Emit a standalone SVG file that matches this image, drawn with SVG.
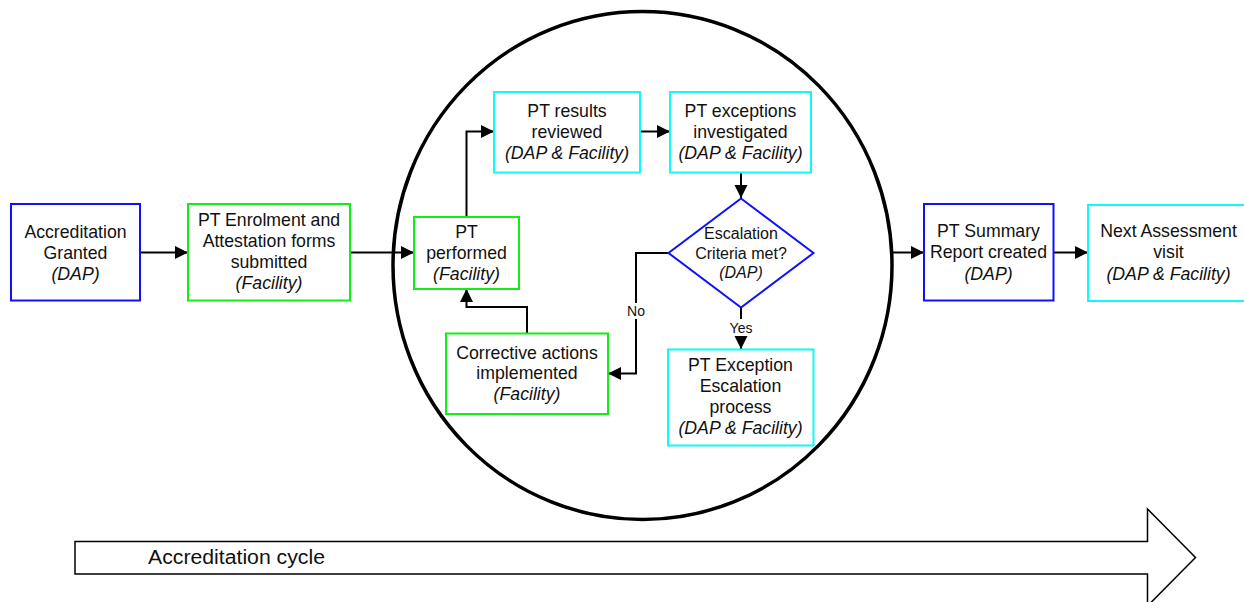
<svg xmlns="http://www.w3.org/2000/svg" width="1244" height="602" viewBox="0 0 1244 602">
  <defs>
    <marker id="arrow" markerUnits="userSpaceOnUse" markerWidth="14" markerHeight="14" viewBox="0 0 14 14" refX="13" refY="7" orient="auto">
      <path d="M0,0.5 L13,7 L0,13.5 Z" fill="#000"/>
    </marker>
  </defs>
  <style>
    .box { fill: #fff; stroke-width: 2; }
    .dap { stroke: #1010ff; }
    .fac { stroke: #10f010; }
    .both { stroke: #10f8f8; }
    .lbl { font-family: "Liberation Sans", Arial, sans-serif; font-size: 17.7px; fill: #111; text-anchor: middle; }
    .lbl .who { font-style: italic; }
    .dlbl { font-family: "Liberation Sans", Arial, sans-serif; font-size: 16px; fill: #111; text-anchor: middle; }
    .dlbl .who { font-style: italic; }
    .edge { fill: none; stroke: #000; stroke-width: 2; marker-end: url(#arrow); }
    .elbl { font-family: "Liberation Sans", Arial, sans-serif; font-size: 14px; fill: #111; text-anchor: middle; }
  </style>

  <rect width="1244" height="602" fill="#fff"/>

  <!-- timeline arrow -->
  <g id="cycle-arrow">
    <path d="M75,541.5 L1147.5,541.5 L1147.5,509 L1195.5,557.5 L1147.5,606 L1147.5,574 L75,574 Z" fill="#fff" stroke="#000" stroke-width="1.5"/>
    <text x="148" y="563.5" font-family="'Liberation Sans', Arial, sans-serif" font-size="20px" fill="#111" textLength="177" lengthAdjust="spacingAndGlyphs">Accreditation cycle</text>
  </g>

  <!-- PT cycle ring -->
  <g id="pt-ring">
    <ellipse cx="642.5" cy="265.5" rx="249.5" ry="254" fill="none" stroke="#000" stroke-width="3.5"/>
  </g>

  <!-- connectors -->
  <g id="connectors">
    <path class="edge" d="M140,252.5 L188,252.5"/>
    <path class="edge" d="M350,252.5 L414,252.5"/>
    <path class="edge" d="M466.5,217 L466.5,131.5 L494,131.5"/>
    <path class="edge" d="M640,131.5 L670,131.5"/>
    <path class="edge" d="M741,172 L741,198"/>
    <path class="edge" d="M741,307 L741,349"/>
    <path class="edge" d="M668,253 L636,253 L636,373.5 L608,373.5"/>
    <path class="edge" d="M527,333 L527,307 L466.5,307 L466.5,289"/>
    <path class="edge" d="M892,252.5 L924,252.5"/>
    <path class="edge" d="M1053,252.5 L1088,252.5"/>
    <rect x="625" y="303" width="22" height="16" fill="#fff"/>
    <text class="elbl" x="636" y="316">No</text>
    <rect x="728" y="319" width="26" height="17" fill="#fff"/>
    <text class="elbl" x="741" y="332.5">Yes</text>
  </g>

  <g id="accreditation-granted">
    <rect class="box dap" x="11" y="204" width="129" height="96.5"/>
    <text class="lbl" x="75.5"><tspan x="75.5" y="237.5">Accreditation</tspan><tspan x="75.5" y="258.5">Granted</tspan><tspan class="who" x="75.5" y="279.5">(DAP)</tspan></text>
  </g>

  <g id="pt-enrolment">
    <rect class="box fac" x="188" y="204" width="162" height="96.5"/>
    <text class="lbl"><tspan x="269" y="226">PT Enrolment and</tspan><tspan x="269" y="247">Attestation forms</tspan><tspan x="269" y="268">submitted</tspan><tspan class="who" x="269" y="289">(Facility)</tspan></text>
  </g>

  <g id="pt-performed">
    <rect class="box fac" x="414" y="217" width="105" height="72"/>
    <text class="lbl"><tspan x="466.5" y="237.5">PT</tspan><tspan x="466.5" y="258.5">performed</tspan><tspan class="who" x="466.5" y="279.5">(Facility)</tspan></text>
  </g>

  <g id="pt-results-reviewed">
    <rect class="box both" x="494" y="92" width="146" height="80.5"/>
    <text class="lbl"><tspan x="567" y="116.5">PT results</tspan><tspan x="567" y="137.5">reviewed</tspan><tspan class="who" x="567" y="158.5">(DAP &amp; Facility)</tspan></text>
  </g>

  <g id="pt-exceptions-investigated">
    <rect class="box both" x="670" y="92" width="141" height="80.5"/>
    <text class="lbl"><tspan x="740.5" y="116.5">PT exceptions</tspan><tspan x="740.5" y="137.5">investigated</tspan><tspan class="who" x="740.5" y="158.5">(DAP &amp; Facility)</tspan></text>
  </g>

  <g id="escalation-criteria">
    <path d="M741,198.5 L813.5,253 L741,307.5 L668.5,253 Z" fill="#fff" stroke="#1010ff" stroke-width="2"/>
    <text class="dlbl"><tspan x="741" y="239">Escalation</tspan><tspan x="741" y="258.5">Criteria met?</tspan><tspan class="who" x="741" y="278">(DAP)</tspan></text>
  </g>

  <g id="corrective-actions">
    <rect class="box fac" x="446" y="333.5" width="162" height="80.5"/>
    <text class="lbl"><tspan x="527" y="358.5">Corrective actions</tspan><tspan x="527" y="379">implemented</tspan><tspan class="who" x="527" y="400">(Facility)</tspan></text>
  </g>

  <g id="pt-exception-escalation">
    <rect class="box both" x="668" y="349.5" width="145.5" height="96"/>
    <text class="lbl"><tspan x="740.5" y="370.5">PT Exception</tspan><tspan x="740.5" y="391.5">Escalation</tspan><tspan x="740.5" y="412.5">process</tspan><tspan class="who" x="740.5" y="434">(DAP &amp; Facility)</tspan></text>
  </g>

  <g id="pt-summary-report">
    <rect class="box dap" x="924" y="204" width="129.5" height="96.5"/>
    <text class="lbl"><tspan x="988.5" y="237">PT Summary</tspan><tspan x="988.5" y="258">Report created</tspan><tspan class="who" x="988.5" y="279.5">(DAP)</tspan></text>
  </g>

  <g id="next-assessment">
    <rect class="box both" x="1088" y="205" width="162" height="96"/>
    <text class="lbl"><tspan x="1168.5" y="237">Next Assessment</tspan><tspan x="1168.5" y="258">visit</tspan><tspan class="who" x="1168.5" y="279.5">(DAP &amp; Facility)</tspan></text>
  </g>
</svg>
